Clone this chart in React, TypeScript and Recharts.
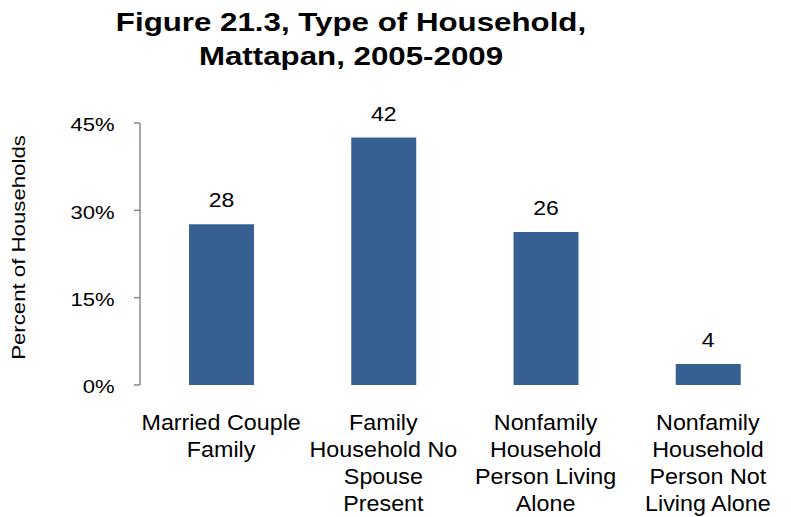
import React from 'react';
import { BarChart, Bar, XAxis, YAxis, LabelList, Label } from 'recharts';

const categories = [
  'Married Couple Family',
  'Family Household No Spouse Present',
  'Nonfamily Household Person Living Alone',
  'Nonfamily Household Person Not Living Alone',
];
const tickLines = [
  ['Married Couple', 'Family'],
  ['Family', 'Household No', 'Spouse', 'Present'],
  ['Nonfamily', 'Household', 'Person Living', 'Alone'],
  ['Nonfamily', 'Household', 'Person Not', 'Living Alone'],
];
const shares = [27.6, 42.5, 26.3, 3.6];
const shareLabels = ['28', '42', '26', '4'];
const yTicks = [0, 15, 30, 45];

const data = categories.map((name, i) => ({
  name,
  share: shares[i],
  label: shareLabels[i],
}));

const FONT = '"Liberation Sans", Arial, Helvetica, sans-serif';

// reference text is drawn a bit wider than Arial, so stretch it horizontally
function CategoryTick(props: any) {
  const { x, y, index } = props;
  const lines = tickLines[index] || [];
  return (
    <g transform={`translate(${x},${y}) scale(1.06,1)`}>
      <text x={0} y={0} textAnchor="middle" fill="#000" fontSize={22} fontFamily={FONT}>
        {lines.map((l, i) => (
          <tspan key={i} x={0} dy={i === 0 ? 37 : 27}>{l}</tspan>
        ))}
      </text>
    </g>
  );
}

function PercentTick(props: any) {
  const { x, y, payload } = props;
  return (
    <g transform={`translate(${x},${y + 1.5}) scale(1.16,1)`}>
      <text x={0} y={0} dy="0.355em" textAnchor="end" fill="#000" fontSize={19} fontFamily={FONT}>
        {`${payload.value}%`}
      </text>
    </g>
  );
}

function BarValue(props: any) {
  const { x, y, width, value } = props;
  return (
    <g transform={`translate(${x + width / 2},${y - 17}) scale(1.15,1)`}>
      <text x={0} y={0} textAnchor="middle" fill="#000" fontSize={20} fontFamily={FONT}>
        {value}
      </text>
    </g>
  );
}

export default function App() {
  return (
    <div style={{ position: 'absolute', left: 0, top: 0, width: 791, height: 517, background: '#fff', fontFamily: FONT }}>
      <div
        style={{
          position: 'absolute',
          left: 0,
          top: 6,
          width: 702,
          textAlign: 'center',
          fontWeight: 'bold',
          fontSize: 26.5,
          lineHeight: '33.5px',
          color: '#000',
          transform: 'scaleX(1.18)',
          transformOrigin: '351px 0',
        }}
      >
        Figure 21.3, Type of Household,<br />Mattapan, 2005-2009
      </div>
      <BarChart
        width={791}
        height={517}
        data={data}
        margin={{ top: 123, right: 2, bottom: 12, left: 0 }}
        style={{ position: 'absolute', left: 0, top: 0 }}
      >
        <XAxis
          xAxisId="edges"
          type="number"
          domain={[0, 4]}
          ticks={[0, 1, 2, 3, 4]}
          tick={false}
          height={0}
          tickSize={6}
          axisLine={{ stroke: '#888', strokeWidth: 1.5 }}
          tickLine={{ stroke: '#888', strokeWidth: 1.5 }}
        />
        <XAxis
          xAxisId="cat"
          dataKey="name"
          height={120}
          axisLine={false}
          tickLine={false}
          interval={0}
          tick={<CategoryTick />}
        />
        <YAxis
          width={140}
          domain={[0, 45]}
          ticks={yTicks}
          tickSize={6}
          tickMargin={19.5}
          axisLine={{ stroke: '#888', strokeWidth: 1.5 }}
          tickLine={{ stroke: '#888', strokeWidth: 1.5 }}
          tick={<PercentTick />}
        >
          <Label
            content={() => (
              <g transform="translate(25,247.5) rotate(-90) scale(1.17,1)">
                <text x={0} y={0} textAnchor="middle" fill="#000" fontSize={19} fontFamily={FONT}>
                  Percent of Households
                </text>
              </g>
            )}
          />
        </YAxis>
        <Bar xAxisId="cat" dataKey="share" fill="#376092" barSize={65} isAnimationActive={false}>
          <LabelList dataKey="label" content={<BarValue />} />
        </Bar>
      </BarChart>
    </div>
  );
}
